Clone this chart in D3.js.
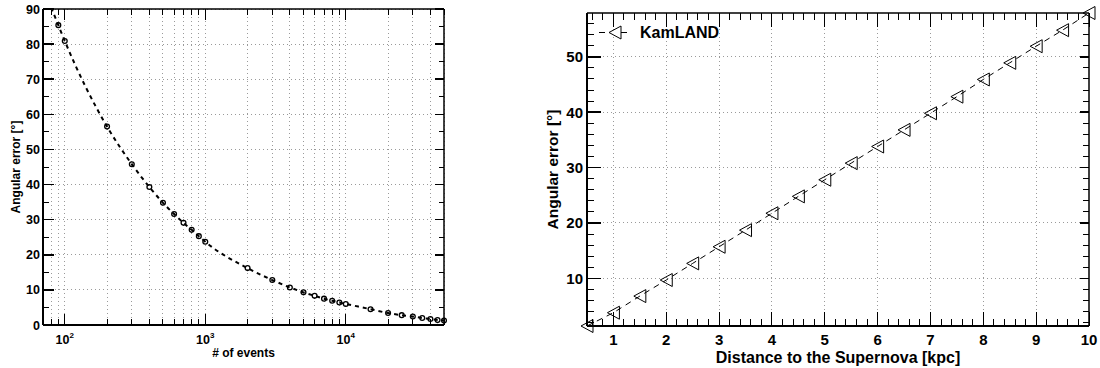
<!DOCTYPE html>
<html>
<head>
<meta charset="utf-8">
<script src="https://cdn.jsdelivr.net/npm/d3@7"></script>
<style>
  body { margin: 0; background: #fff; }
  svg { display: block; font-family: "Liberation Sans", Arial, Helvetica, sans-serif; font-weight: bold; }
</style>
</head>
<body>
<svg id="chart" width="1100" height="368"></svg>
<script>
// ---------- Data (left panel) ----------
const nEvents = [90, 100, 200, 300, 400, 500, 600, 700, 800, 900, 1000, 2000, 3000, 4000, 5000, 6000, 7000, 8000, 9000, 10000, 15000, 20000, 25000, 30000, 35000, 40000, 45000, 50000];
const angErr  = [85.4, 80.9, 56.5, 45.8, 39.3, 34.8, 31.6, 29.1, 27.1, 25.3, 23.7, 16.2, 12.8, 10.7, 9.3, 8.3, 7.5, 6.9, 6.4, 6.0, 4.5, 3.4, 2.8, 2.4, 2.0, 1.7, 1.4, 1.3];
// fitted curve continues above the first point, up to the frame
const curveStartN = [80];
const curveStartErr = [90.4];
const leftXDomain = [70, 50000];
const leftYDomain = [0, 90];
const leftYTicks = [0, 10, 20, 30, 40, 50, 60, 70, 80, 90];
const leftXMajor = [100, 1000, 10000];
const leftXMajorExp = ["2", "3", "4"];

// ---------- Data (right panel) ----------
const distance = [0.5, 1, 1.5, 2, 2.5, 3, 3.5, 4, 4.5, 5, 5.5, 6, 6.5, 7, 7.5, 8, 8.5, 9, 9.5, 10];
const kamlandErr = [1.4, 3.8, 6.8, 9.7, 12.7, 15.7, 18.7, 21.75, 24.8, 27.8, 30.8, 33.8, 36.8, 39.8, 42.8, 45.9, 48.9, 51.9, 54.8, 57.9];
const rightXTicks = [1, 2, 3, 4, 5, 6, 7, 8, 9, 10];
const rightYTicks = [10, 20, 30, 40, 50];
const legendLabel = "KamLAND";

const svg = d3.select("#chart");
const GRID_COLOR = "#9a9a9a";
const GRID_DASH = "1,3";

// ---------- helpers ----------
function frame(g, b, wThick) {
  g.append("line").attr("x1", b.x0).attr("x2", b.x1).attr("y1", b.y0).attr("y2", b.y0).attr("stroke", "#000").attr("stroke-width", 1.5);
  g.append("line").attr("x1", b.x1).attr("x2", b.x1).attr("y1", b.y0).attr("y2", b.y1).attr("stroke", "#000").attr("stroke-width", 1.5);
  g.append("line").attr("x1", b.x0).attr("x2", b.x1).attr("y1", b.y1).attr("y2", b.y1).attr("stroke", "#000").attr("stroke-width", wThick);
  g.append("line").attr("x1", b.x0).attr("x2", b.x0).attr("y1", b.y0).attr("y2", b.y1).attr("stroke", "#000").attr("stroke-width", wThick);
}

// =============== LEFT PANEL ===============
const L = {x0: 43, x1: 444, y0: 9, y1: 325};
const xL = d3.scaleLog().domain(leftXDomain).range([L.x0, L.x1]);
const yL = d3.scaleLinear().domain(leftYDomain).range([L.y1, L.y0]);
const gL = svg.append("g");

const leftXAll = xL.ticks().filter(v => v >= leftXDomain[0] && v <= leftXDomain[1]);
const leftYMinor = d3.range(leftYDomain[0], leftYDomain[1] + 0.001, 5);

// grid
gL.append("g").selectAll("line").data(leftXAll).join("line")
  .attr("x1", d => xL(d)).attr("x2", d => xL(d)).attr("y1", L.y0).attr("y2", L.y1)
  .attr("stroke", GRID_COLOR).attr("stroke-width", 1).attr("stroke-dasharray", GRID_DASH).attr("shape-rendering", "crispEdges");
gL.append("g").selectAll("line").data(leftYTicks).join("line")
  .attr("x1", L.x0).attr("x2", L.x1).attr("y1", d => yL(d)).attr("y2", d => yL(d))
  .attr("stroke", GRID_COLOR).attr("stroke-width", 1).attr("stroke-dasharray", GRID_DASH).attr("shape-rendering", "crispEdges");

// ticks
const isMajorL = d => leftXMajor.includes(d);
gL.append("g").selectAll("line").data(leftXAll).join("line")
  .attr("x1", d => xL(d)).attr("x2", d => xL(d)).attr("y1", L.y1).attr("y2", d => L.y1 - (isMajorL(d) ? 11 : 6))
  .attr("stroke", "#000").attr("stroke-width", 1).attr("shape-rendering", "crispEdges");
gL.append("g").selectAll("line").data(leftXAll).join("line")
  .attr("x1", d => xL(d)).attr("x2", d => xL(d)).attr("y1", L.y0).attr("y2", d => L.y0 + (isMajorL(d) ? 11 : 6))
  .attr("stroke", "#000").attr("stroke-width", 1).attr("shape-rendering", "crispEdges");
gL.append("g").selectAll("line").data(leftYMinor).join("line")
  .attr("x1", L.x0).attr("x2", d => L.x0 + (d % 10 === 0 ? 11 : 6)).attr("y1", d => yL(d)).attr("y2", d => yL(d))
  .attr("stroke", "#000").attr("stroke-width", d => d % 10 === 0 ? 1.5 : 1).attr("shape-rendering", "crispEdges");
gL.append("g").selectAll("line").data(leftYMinor).join("line")
  .attr("x1", L.x1).attr("x2", d => L.x1 - (d % 10 === 0 ? 9 : 5)).attr("y1", d => yL(d)).attr("y2", d => yL(d))
  .attr("stroke", "#000").attr("stroke-width", d => d % 10 === 0 ? 1.5 : 1).attr("shape-rendering", "crispEdges");

frame(gL, L, 2);

// tick labels
gL.append("g").selectAll("text").data(leftYTicks).join("text")
  .attr("x", L.x0 - 3).attr("y", d => yL(d)).attr("dy", "0.36em")
  .attr("text-anchor", "end").attr("font-size", 12.5).text(d => d);
const xlab = gL.append("g").selectAll("text").data(leftXMajor).join("text")
  .attr("x", d => xL(d)).attr("y", 344).attr("text-anchor", "middle").attr("font-size", 12.5);
xlab.append("tspan").text("10");
xlab.append("tspan").attr("font-size", 8).attr("dy", -6).text((d, i) => leftXMajorExp[i]);

// titles
gL.append("text").attr("x", (L.x0 + L.x1) / 2).attr("y", 356.5).attr("text-anchor", "middle")
  .attr("font-size", 12).text("# of events");
gL.append("text").attr("transform", `translate(20,${(L.y0 + L.y1) / 2}) rotate(-90)`)
  .attr("text-anchor", "middle").attr("font-size", 12).text("Angular error [°]");

// curve + markers
gL.append("clipPath").attr("id", "clipL").append("rect")
  .attr("x", L.x0).attr("y", L.y0).attr("width", L.x1 - L.x0).attr("height", L.y1 - L.y0);
const curvePts = curveStartN.map((n, i) => [n, curveStartErr[i]]).concat(nEvents.map((n, i) => [n, angErr[i]]));
gL.append("path").datum(curvePts).attr("clip-path", "url(#clipL)")
  .attr("d", d3.line().x(d => xL(d[0])).y(d => yL(d[1])).curve(d3.curveMonotoneX))
  .attr("fill", "none").attr("stroke", "#000").attr("stroke-width", 2).attr("stroke-dasharray", "4,4");
gL.append("g").selectAll("circle").data(nEvents).join("circle")
  .attr("cx", d => xL(d)).attr("cy", (d, i) => yL(angErr[i])).attr("r", 2.4)
  .attr("fill", "none").attr("stroke", "#000").attr("stroke-width", 1.3);

// =============== RIGHT PANEL ===============
const R = {x0: 587, x1: 1089, y0: 13, y1: 326};
const xR = d3.scaleLinear().domain(d3.extent(distance)).range([R.x0, R.x1]);
const yR = d3.scaleLinear().domain(d3.extent(kamlandErr)).range([R.y1, R.y0]);
const gR = svg.append("g");

const rxMinor = d3.range(0.6, 10.001, 0.2).map(v => +v.toFixed(1));
const ryMinor = d3.range(2, 57.9, 2);

// grid
gR.append("g").selectAll("line").data(rightXTicks.filter(d => d < 10)).join("line")
  .attr("x1", d => xR(d)).attr("x2", d => xR(d)).attr("y1", R.y0).attr("y2", R.y1)
  .attr("stroke", GRID_COLOR).attr("stroke-width", 1).attr("stroke-dasharray", GRID_DASH).attr("shape-rendering", "crispEdges");
gR.append("g").selectAll("line").data(rightYTicks).join("line")
  .attr("x1", R.x0).attr("x2", R.x1).attr("y1", d => yR(d)).attr("y2", d => yR(d))
  .attr("stroke", GRID_COLOR).attr("stroke-width", 1).attr("stroke-dasharray", GRID_DASH).attr("shape-rendering", "crispEdges");

// ticks
const isMajR = d => Math.abs(d - Math.round(d)) < 1e-6;
gR.append("g").selectAll("line").data(rxMinor).join("line")
  .attr("x1", d => xR(d)).attr("x2", d => xR(d)).attr("y1", R.y1).attr("y2", d => R.y1 - (isMajR(d) ? 14 : 7))
  .attr("stroke", "#000").attr("stroke-width", 1).attr("shape-rendering", "crispEdges");
gR.append("g").selectAll("line").data(rxMinor).join("line")
  .attr("x1", d => xR(d)).attr("x2", d => xR(d)).attr("y1", R.y0).attr("y2", d => R.y0 + (isMajR(d) ? 14 : 7))
  .attr("stroke", "#000").attr("stroke-width", 1).attr("shape-rendering", "crispEdges");
gR.append("g").selectAll("line").data(ryMinor).join("line")
  .attr("x1", R.x0).attr("x2", d => R.x0 + (d % 10 === 0 ? 14 : 7)).attr("y1", d => yR(d)).attr("y2", d => yR(d))
  .attr("stroke", "#000").attr("stroke-width", d => d % 10 === 0 ? 1.5 : 1).attr("shape-rendering", "crispEdges");
gR.append("g").selectAll("line").data(ryMinor).join("line")
  .attr("x1", R.x1).attr("x2", d => R.x1 - (d % 10 === 0 ? 9 : 6)).attr("y1", d => yR(d)).attr("y2", d => yR(d))
  .attr("stroke", "#000").attr("stroke-width", d => d % 10 === 0 ? 1.5 : 1).attr("shape-rendering", "crispEdges");

frame(gR, R, 2);

// tick labels
gR.append("g").selectAll("text").data(rightYTicks).join("text")
  .attr("x", R.x0 - 4).attr("y", d => yR(d)).attr("dy", "0.36em")
  .attr("text-anchor", "end").attr("font-size", 15).text(d => d);
gR.append("g").selectAll("text").data(rightXTicks).join("text")
  .attr("x", d => xR(d)).attr("y", 345).attr("text-anchor", "middle").attr("font-size", 15).text(d => d);

// titles
gR.append("text").attr("x", (R.x0 + R.x1) / 2).attr("y", 362.5).attr("text-anchor", "middle")
  .attr("font-size", 16).text("Distance to the Supernova [kpc]");
gR.append("text").attr("transform", `translate(558,${(R.y0 + R.y1) / 2}) rotate(-90)`)
  .attr("text-anchor", "middle").attr("font-size", 15.5).text("Angular error [°]");

// data line + triangles
const tri = "M-6,0L6,-6.5L6,6.5Z";
gR.append("path").datum(distance.map((d, i) => [d, kamlandErr[i]]))
  .attr("d", d3.line().x(d => xR(d[0])).y(d => yR(d[1])))
  .attr("fill", "none").attr("stroke", "#000").attr("stroke-width", 1).attr("stroke-dasharray", "6,5");
gR.append("g").selectAll("path").data(distance).join("path")
  .attr("transform", (d, i) => `translate(${xR(d)},${yR(kamlandErr[i])})`)
  .attr("d", tri).attr("fill", "none").attr("stroke", "#000").attr("stroke-width", 1);

// legend
const lg = gR.append("g").attr("transform", "translate(598,32.5)");
lg.append("line").attr("x1", 0).attr("x2", 34).attr("y1", 0).attr("y2", 0)
  .attr("stroke", "#000").attr("stroke-width", 1).attr("stroke-dasharray", "6,5").attr("stroke-dashoffset", -1);
lg.append("path").attr("transform", "translate(17,0)").attr("d", tri).attr("fill", "#fff").attr("stroke", "#000").attr("stroke-width", 1);
lg.append("text").attr("x", 42).attr("y", 5.5).attr("font-size", 16).text(legendLabel);
</script>
</body>
</html>
